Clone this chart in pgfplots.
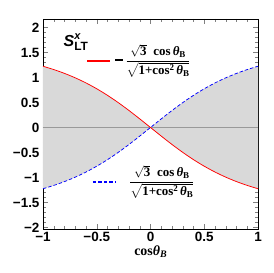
\documentclass[border=0pt]{standalone}
\usepackage{amsmath}
\usepackage{pgfplots}
\usepackage{pgfplotstable}
\pgfplotsset{compat=1.18}
\usepackage{fontspec}
\setmainfont{Liberation Sans}
\newfontfamily\tnr{Liberation Serif}
\pgfplotstableread{
x f
-1.0 -1.22474
-0.9 -1.15868
-0.8 -1.08200
-0.7 -0.99327
-0.6 -0.89113
-0.5 -0.77460
-0.4 -0.64327
-0.3 -0.49770
-0.2 -0.33968
-0.1 -0.17234
0.0 0.0
0.1 0.17234
0.2 0.33968
0.3 0.49770
0.4 0.64327
0.5 0.77460
0.6 0.89113
0.7 0.99327
0.8 1.08200
0.9 1.15868
1.0 1.22474
}\data
\newcommand{\fr}{\tnr\bfseries\fontsize{13}{13}\selectfont $\dfrac{\sqrt{\mbox{3}}\;\;\mbox{cos\,\textit{θ}\raisebox{-0.3ex}{\fontsize{9}{9}\selectfont B}}}{\sqrt{\mbox{1+cos\raisebox{0.7ex}{\fontsize{9}{9}\selectfont 2}\,\textit{θ}\raisebox{-0.3ex}{\fontsize{9}{9}\selectfont B}}}}$}
\begin{document}
\begin{tikzpicture}
\begin{axis}[
  scale only axis, width=215bp, height=210bp,
  xmin=-1, xmax=1, ymin=-2.03, ymax=2.17,
  xtick={-1,-0.5,0,0.5,1}, ytick={-2,-1.5,-1,-0.5,0,0.5,1,1.5,2},
  minor x tick num=4, minor y tick num=4,
  tick align=inside,
  major tick length=5bp, minor tick length=3bp,
  /pgf/number format/assume math mode=true,
  tick label style={font=\fontsize{13.5}{13.5}\selectfont\bfseries},
  xticklabels={−1,−0.5,0,0.5,1},
  yticklabels={−2,−1.5,−1,−0.5,0,0.5,1,1.5,2},
  xlabel={\fontsize{14}{14}\selectfont\tnr\bfseries cos\textit{θ}\raisebox{-0.35ex}{\fontsize{10}{10}\selectfont\itshape B}},
  xlabel style={yshift=3bp},
  axis line style={black, line width=0.8pt},
  clip=true,
]
\addplot[fill=black!15, draw=none] coordinates {
(-1,1.22474)(-0.9,1.15868)(-0.8,1.08200)(-0.7,0.99327)(-0.6,0.89113)(-0.5,0.77460)(-0.4,0.64327)(-0.3,0.49770)(-0.2,0.33968)(-0.1,0.17234)(0,0)
(-0.1,-0.17234)(-0.2,-0.33968)(-0.3,-0.49770)(-0.4,-0.64327)(-0.5,-0.77460)(-0.6,-0.89113)(-0.7,-0.99327)(-0.8,-1.08200)(-0.9,-1.15868)(-1,-1.22474)
} -- cycle;
\addplot[fill=black!15, draw=none] coordinates {
(1,1.22474)(0.9,1.15868)(0.8,1.08200)(0.7,0.99327)(0.6,0.89113)(0.5,0.77460)(0.4,0.64327)(0.3,0.49770)(0.2,0.33968)(0.1,0.17234)(0,0)
(0.1,-0.17234)(0.2,-0.33968)(0.3,-0.49770)(0.4,-0.64327)(0.5,-0.77460)(0.6,-0.89113)(0.7,-0.99327)(0.8,-1.08200)(0.9,-1.15868)(1,-1.22474)
} -- cycle;
\addplot[black!40, line width=0.6pt] coordinates {(-1,0)(1,0)};
\addplot[red, line width=0.75pt, smooth] table[x=x, y expr=-\thisrow{f}] {\data};
\addplot[blue, line width=0.75pt, dash pattern=on 3.5pt off 2pt, smooth] table[x=x, y=f] {\data};
\addplot[red, line width=1.1pt] coordinates {(-0.59,1.33)(-0.38,1.33)};
\addplot[blue, line width=1.1pt, dash pattern=on 3.5pt off 2pt] coordinates {(-0.535,-1.09)(-0.32,-1.09)};
\node[anchor=west, inner sep=0pt] at (axis cs:-0.81,1.7) {\fontsize{16}{16}\selectfont\bfseries\itshape S$^{\mbox{\fontsize{11}{11}\selectfont\bfseries\itshape x}}_{\mbox{\fontsize{12}{12}\selectfont\bfseries\upshape LT}}$};
\node[anchor=west, inner sep=0pt] at (axis cs:-0.33,1.33) {\raisebox{3.2pt}{\rule{7.5pt}{1.3pt}}\;\fr};
\node[anchor=west, inner sep=0pt] at (axis cs:-0.2,-1.09) {\fr};
\end{axis}
\path ([shift={(-43bp,-44bp)}]current axis.south west) rectangle ([shift={(16bp,19bp)}]current axis.north east);
\end{tikzpicture}
\end{document}
